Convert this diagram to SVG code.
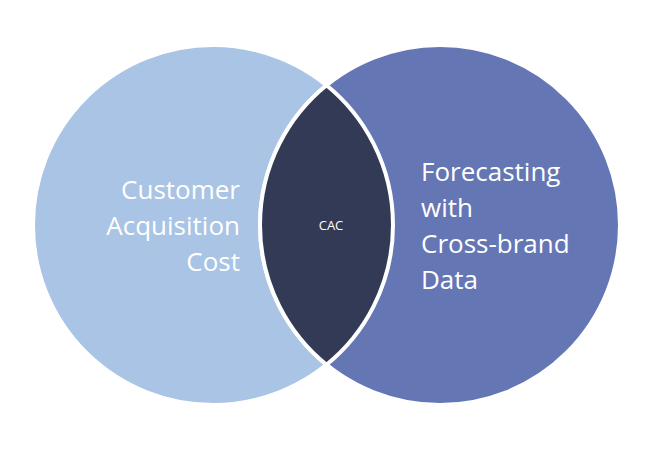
<svg xmlns="http://www.w3.org/2000/svg" width="657" height="451" viewBox="0 0 657 451">
<style>
.big{font-family:"Open Sans","Liberation Sans",sans-serif;font-size:26px;fill:#fff}
.sm{font-family:"Open Sans","Liberation Sans",sans-serif;font-size:13px;fill:#fff}
</style>
<rect width="657" height="451" fill="#fff"/>
<g id="left">
<circle cx="213" cy="225" r="180" fill="#A9C4E4" stroke="#fff" stroke-width="4"/>
<text class="big" text-anchor="end" x="240" y="199">Customer</text>
<text class="big" text-anchor="end" x="240" y="235">Acquisition</text>
<text class="big" text-anchor="end" x="240" y="271">Cost</text>
</g>
<g id="right">
<circle cx="440" cy="225" r="180" fill="#6576B4" stroke="#fff" stroke-width="4"/>
<text class="big" x="421" y="181">Forecasting</text>
<text class="big" x="421" y="217">with</text>
<text class="big" x="421" y="253">Cross-brand</text>
<text class="big" x="421" y="289">Data</text>
</g>
<g id="lens">
<path d="M326.5,85.3 A180,180 0 0 1 326.5,364.7 A180,180 0 0 1 326.5,85.3 Z" fill="#333A56" stroke="#fff" stroke-width="4"/>
<text class="sm" text-anchor="middle" x="331" y="230">CAC</text>
</g>
<g id="connectors"/>
</svg>
